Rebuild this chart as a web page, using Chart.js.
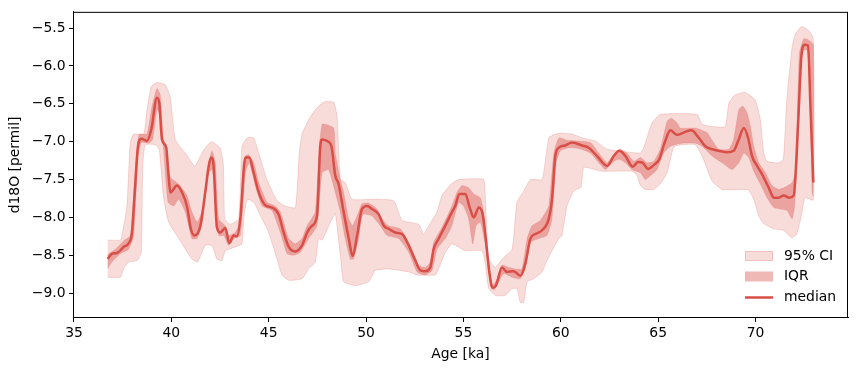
<!DOCTYPE html>
<html>
<head>
<meta charset="utf-8">
<script src="https://cdn.jsdelivr.net/npm/chart.js@4.4.0/dist/chart.umd.min.js"></script>
<style>
  html, body { margin: 0; padding: 0; background: #fff; }
  canvas { display: block; }
</style>
</head>
<body>
<canvas id="chart" width="858" height="371"></canvas>
<script>
// age [ka], d18O [permil] pairs
const median = [
  [36.73,-8.55],[36.95,-8.48],[37.21,-8.47],[37.55,-8.39],[37.81,-8.34],[37.98,-8.2],[38.12,-7.67],
  [38.29,-7.06],[38.46,-6.96],[38.75,-6.99],[38.97,-6.84],[39.26,-6.42],[39.38,-6.49],[39.52,-6.97],
  [39.74,-7.08],[39.84,-7.39],[39.95,-7.67],[40.29,-7.58],[40.55,-7.67],[40.8,-7.85],[41.0,-8.15],
  [41.2,-8.24],[41.49,-8.11],[41.74,-7.67],[41.92,-7.32],[42.05,-7.21],[42.17,-7.32],[42.34,-8.13],
  [42.51,-8.2],[42.77,-8.14],[42.98,-8.34],[43.2,-8.24],[43.37,-8.25],[43.54,-8.02],[43.8,-7.21],
  [44.0,-7.21],[44.23,-7.41],[44.49,-7.67],[44.83,-7.84],[45.17,-7.87],[45.51,-7.96],[45.77,-8.2],
  [46.03,-8.39],[46.37,-8.45],[46.71,-8.37],[46.97,-8.2],[47.22,-8.11],[47.48,-7.98],[47.65,-7.06],
  [47.74,-6.97],[47.99,-6.99],[48.22,-7.06],[48.42,-7.45],[48.59,-7.56],[48.85,-7.93],[49.11,-8.28],
  [49.31,-8.51],[49.54,-8.24],[49.79,-7.89],[50.05,-7.85],[50.31,-7.89],[50.65,-7.96],[50.91,-8.11],
  [51.16,-8.15],[51.5,-8.2],[51.85,-8.22],[52.19,-8.37],[52.53,-8.57],[52.79,-8.7],[53.04,-8.71],
  [53.3,-8.66],[53.47,-8.42],[53.73,-8.28],[54.07,-8.11],[54.41,-7.93],[54.58,-7.85],[54.79,-7.69],
  [55.1,-7.69],[55.3,-7.85],[55.53,-8.0],[55.79,-7.87],[55.99,-7.96],[56.13,-8.24],[56.33,-8.72],
  [56.5,-8.93],[56.67,-8.9],[56.98,-8.66],[57.24,-8.72],[57.58,-8.71],[57.92,-8.77],[58.18,-8.61],
  [58.44,-8.28],[58.69,-8.22],[59.04,-8.17],[59.38,-8.02],[59.55,-7.76],[59.72,-7.19],[59.9,-7.08],
  [60.23,-7.05],[60.58,-7.01],[61.09,-7.05],[61.43,-7.08],[61.86,-7.19],[62.38,-7.32],[62.72,-7.19],
  [63.01,-7.12],[63.32,-7.19],[63.69,-7.33],[63.97,-7.27],[64.21,-7.28],[64.48,-7.36],[64.77,-7.31],
  [65.06,-7.23],[65.34,-7.01],[65.63,-6.85],[65.97,-6.91],[66.31,-6.88],[66.7,-6.85],[67.09,-6.95],
  [67.42,-7.06],[67.77,-7.1],[68.11,-7.12],[68.54,-7.14],[68.88,-7.12],[69.14,-6.97],[69.4,-6.82],
  [69.62,-6.95],[69.82,-7.19],[70.08,-7.32],[70.34,-7.43],[70.68,-7.61],[70.94,-7.74],[71.19,-7.74],
  [71.45,-7.71],[71.74,-7.74],[71.96,-7.71],[72.19,-6.75],[72.36,-5.86],[72.53,-5.72],[72.7,-5.73],
  [72.82,-6.53],[72.97,-7.54]
];

const iqrUpper = [
  [36.73,-8.49],[37.12,-8.42],[37.55,-8.31],[37.89,-8.24],[38.07,-7.67],[38.24,-7.06],[38.36,-6.9],
  [38.75,-6.9],[39.01,-6.53],[39.26,-6.3],[39.43,-6.38],[39.6,-6.97],[39.95,-7.47],[40.38,-7.56],
  [40.8,-7.71],[41.06,-7.93],[41.32,-8.06],[41.57,-7.93],[41.92,-7.28],[42.09,-7.12],[42.26,-7.28],
  [42.43,-8.02],[42.77,-8.11],[42.94,-8.24],[43.28,-8.2],[43.59,-8.02],[43.8,-7.19],[43.97,-7.17],
  [44.23,-7.28],[44.49,-7.54],[44.91,-7.8],[45.34,-7.85],[45.6,-7.93],[46.03,-8.28],[46.37,-8.35],
  [46.71,-8.28],[46.97,-8.11],[47.39,-7.93],[47.6,-7.06],[47.74,-6.77],[47.91,-6.77],[48.34,-6.82],
  [48.42,-7.15],[48.68,-7.5],[48.85,-7.67],[49.11,-8.02],[49.31,-8.11],[49.62,-7.93],[49.79,-7.82],
  [50.13,-7.81],[50.56,-7.89],[50.82,-8.02],[51.16,-8.11],[51.76,-8.15],[52.27,-8.37],[52.7,-8.63],
  [53.04,-8.66],[53.3,-8.59],[53.47,-8.33],[53.9,-8.13],[54.41,-7.85],[54.67,-7.67],[54.93,-7.58],
  [55.27,-7.61],[55.53,-7.69],[55.87,-7.74],[56.04,-7.93],[56.3,-8.68],[56.5,-8.9],[56.73,-8.81],
  [56.98,-8.63],[57.33,-8.66],[57.67,-8.68],[58.01,-8.68],[58.27,-8.28],[58.52,-8.11],[58.95,-8.04],
  [59.38,-7.85],[59.64,-7.15],[59.9,-6.95],[60.32,-6.98],[60.92,-6.99],[61.52,-7.01],[61.95,-7.15],
  [62.38,-7.28],[62.8,-7.14],[63.06,-7.1],[63.4,-7.15],[63.75,-7.26],[64.09,-7.21],[64.43,-7.28],
  [64.77,-7.26],[65.11,-7.1],[65.46,-6.73],[65.68,-6.69],[65.97,-6.75],[66.14,-6.82],[66.91,-6.82],
  [67.51,-6.88],[67.77,-6.98],[68.11,-7.1],[68.63,-7.1],[68.88,-6.97],[69.14,-6.58],[69.34,-6.53],
  [69.57,-6.62],[69.74,-6.8],[69.91,-7.06],[70.17,-7.28],[70.51,-7.41],[70.85,-7.58],[71.19,-7.63],
  [71.53,-7.6],[71.88,-7.54],[72.05,-7.41],[72.25,-5.83],[72.48,-5.64],[72.74,-5.66],[72.97,-5.72]
];

const iqrLower = [
  [36.73,-8.68],[36.95,-8.59],[37.38,-8.48],[37.81,-8.42],[38.07,-8.24],[38.29,-7.19],[38.46,-7.01],
  [38.83,-7.02],[39.04,-6.97],[39.26,-6.58],[39.38,-6.62],[39.6,-7.1],[39.83,-7.8],[40.12,-7.85],
  [40.38,-7.76],[40.72,-7.93],[41.06,-8.28],[41.32,-8.28],[41.57,-8.11],[41.92,-7.41],[42.09,-7.37],
  [42.29,-7.67],[42.43,-8.24],[42.69,-8.24],[42.94,-8.37],[43.2,-8.28],[43.54,-8.24],[43.8,-7.41],
  [44.0,-7.28],[44.31,-7.58],[44.66,-7.85],[45.17,-7.91],[45.6,-8.2],[45.94,-8.48],[46.28,-8.5],
  [46.63,-8.46],[47.05,-8.28],[47.48,-8.11],[47.74,-7.41],[48.08,-7.37],[48.42,-7.67],[48.68,-7.93],
  [48.93,-8.28],[49.19,-8.55],[49.36,-8.55],[49.62,-8.28],[49.83,-7.96],[50.31,-7.98],[50.73,-8.11],
  [51.08,-8.24],[51.68,-8.28],[52.19,-8.46],[52.62,-8.72],[53.04,-8.76],[53.39,-8.7],[53.64,-8.42],
  [54.07,-8.28],[54.41,-8.11],[54.76,-7.8],[55.01,-7.85],[55.27,-8.02],[55.48,-8.35],[55.65,-8.11],
  [55.87,-8.06],[56.13,-8.37],[56.39,-8.9],[56.56,-8.96],[56.81,-8.85],[57.07,-8.74],[57.5,-8.79],
  [57.92,-8.81],[58.18,-8.68],[58.44,-8.33],[58.87,-8.28],[59.29,-8.24],[59.55,-8.02],[59.76,-7.28],
  [59.98,-7.12],[60.41,-7.08],[60.92,-7.09],[61.52,-7.15],[61.95,-7.28],[62.29,-7.37],[62.63,-7.28],
  [62.98,-7.23],[63.32,-7.28],[63.66,-7.37],[64.09,-7.41],[64.34,-7.5],[64.6,-7.45],[64.94,-7.37],
  [65.29,-7.15],[65.63,-7.06],[66.23,-7.02],[66.91,-7.02],[67.26,-7.06],[67.77,-7.19],[68.28,-7.28],
  [68.8,-7.37],[69.14,-7.28],[69.4,-7.15],[69.65,-7.21],[69.91,-7.39],[70.25,-7.56],[70.59,-7.74],
  [70.94,-7.87],[71.27,-7.89],[71.62,-7.91],[71.88,-8.02],[72.01,-7.85],[72.19,-7.06],[72.3,-5.92],
  [72.48,-5.79],[72.65,-5.79],[72.77,-6.1],[72.91,-7.67],[72.97,-7.72]
];

const ciUpper = [
  [36.73,-8.3],[37.38,-8.3],[37.47,-8.23],[37.72,-7.85],[37.89,-7.01],[38.07,-6.9],[38.58,-6.9],
  [38.75,-6.58],[38.97,-6.27],[39.26,-6.22],[39.69,-6.25],[39.95,-6.42],[40.2,-6.97],[40.72,-7.15],
  [41.06,-7.28],[41.21,-7.33],[41.64,-7.12],[42.05,-7.0],[42.5,-7.08],[42.67,-7.3],[42.74,-8.02],
  [43.03,-8.09],[43.46,-8.02],[43.63,-7.06],[43.89,-6.95],[44.23,-6.95],[44.49,-7.15],[44.91,-7.5],
  [45.43,-7.78],[45.85,-7.85],[46.37,-7.87],[46.57,-7.15],[46.71,-6.9],[47.05,-6.71],[47.39,-6.58],
  [47.74,-6.49],[47.91,-6.47],[48.34,-6.48],[48.51,-6.66],[48.68,-7.5],[48.93,-7.54],[49.28,-7.76],
  [50.31,-7.76],[51.42,-7.78],[51.85,-8.04],[52.7,-8.09],[52.96,-8.22],[53.22,-8.11],[53.64,-7.93],
  [53.9,-7.71],[54.41,-7.55],[54.76,-7.5],[55.44,-7.49],[56.04,-7.5],[56.13,-7.76],[56.3,-8.55],
  [56.64,-8.66],[56.98,-8.55],[57.5,-8.42],[57.75,-7.8],[58.1,-7.65],[58.44,-7.5],[59.04,-7.5],
  [59.38,-6.95],[59.72,-6.9],[59.98,-6.89],[60.58,-6.9],[61.09,-6.95],[61.77,-6.99],[62.38,-7.1],
  [64.09,-7.15],[64.26,-7.08],[64.69,-6.75],[65.11,-6.64],[67.0,-6.64],[67.26,-6.77],[67.77,-6.8],
  [68.45,-6.8],[68.63,-6.49],[68.96,-6.38],[69.48,-6.35],[69.99,-6.45],[70.25,-6.71],[70.42,-7.15],
  [70.59,-7.26],[71.17,-7.28],[71.43,-7.23],[71.6,-6.47],[71.86,-5.79],[72.03,-5.59],[72.37,-5.48],
  [72.71,-5.53],[72.97,-5.64]
];

const ciLower = [
  [36.73,-8.79],[37.38,-8.79],[37.55,-8.68],[37.81,-8.59],[38.24,-8.57],[38.46,-8.46],[38.53,-7.32],
  [38.66,-7.04],[39.18,-7.04],[39.38,-7.1],[39.6,-7.74],[39.86,-8.06],[40.29,-8.24],[40.72,-8.42],
  [41.06,-8.55],[41.35,-8.59],[41.74,-8.37],[42.09,-8.37],[42.34,-8.55],[42.6,-8.57],[42.77,-8.44],
  [43.28,-8.39],[43.63,-8.35],[43.72,-8.02],[43.89,-7.76],[44.23,-7.8],[44.49,-7.93],[45.0,-8.2],
  [45.43,-8.55],[45.68,-8.76],[46.03,-8.83],[46.71,-8.81],[47.05,-8.68],[47.39,-8.59],[47.56,-8.28],
  [47.74,-8.3],[48.25,-8.02],[48.42,-7.95],[48.68,-8.5],[48.85,-8.85],[49.45,-8.9],[50.13,-8.85],
  [50.48,-8.7],[51.16,-8.68],[52.19,-8.72],[52.62,-8.76],[53.56,-8.76],[53.73,-8.68],[54.07,-8.46],
  [54.41,-8.35],[54.76,-8.39],[55.1,-8.44],[55.96,-8.44],[56.13,-8.63],[56.3,-8.94],[56.64,-9.03],
  [57.15,-9.03],[57.5,-8.94],[57.75,-8.94],[57.92,-9.12],[58.1,-9.12],[58.27,-8.85],[58.61,-8.81],
  [59.04,-8.72],[59.29,-8.57],[59.55,-8.44],[59.9,-8.28],[60.06,-8.24],[60.32,-7.85],[60.66,-7.65],
  [61.05,-7.6],[61.18,-7.34],[62.12,-7.39],[63.66,-7.39],[63.92,-7.45],[64.09,-7.58],[64.34,-7.63],
  [64.77,-7.63],[65.11,-7.56],[65.46,-7.41],[65.8,-7.07],[66.23,-7.04],[66.91,-7.04],[67.26,-7.19],
  [67.77,-7.52],[68.28,-7.63],[69.31,-7.63],[69.65,-7.64],[69.91,-7.76],[70.17,-7.98],[70.42,-8.08],
  [70.92,-8.15],[71.43,-8.17],[71.86,-8.27],[72.12,-8.22],[72.37,-7.96],[72.54,-7.74],[72.97,-7.77]
];

const xTicks = [35, 40, 45, 50, 55, 60, 65, 70];
const yTicks = [-9.0, -8.5, -8.0, -7.5, -7.0, -6.5, -6.0, -5.5];

const red = '217, 78, 70';
const lineColor = 'rgb(' + red + ')';
const ciColor = 'rgba(' + red + ', 0.2)';
const iqrColor = 'rgba(' + red + ', 0.4)';

function toXY(pairs) {
  return pairs.map(p => ({ x: p[0], y: p[1] }));
}
// closed outline: upper edge left->right, lower edge right->left
function band(upper, lower) {
  return toXY(upper.concat(lower.slice().reverse()));
}

Chart.defaults.font.family = "'DejaVu Sans', sans-serif";
Chart.defaults.font.size = 13.9;
Chart.defaults.color = '#000';

// top/right spines
const frame = {
  id: 'frame',
  afterDatasetsDraw(chart) {
    const a = chart.chartArea, c = chart.ctx;
    c.save();
    c.strokeStyle = '#000';
    c.lineWidth = 1;
    c.strokeRect(a.left + 0.5, a.top + 0.5, a.right - a.left - 1, a.bottom - a.top - 1);
    c.restore();
  }
};

const legendBox = {
  id: 'legendBox',
  afterDraw(chart) {
    const a = chart.chartArea, c = chart.ctx;
    const px = a.right - 103, tx = a.right - 64;
    c.save();
    c.font = '13.9px "DejaVu Sans"';
    c.textBaseline = 'middle';
    // 95% CI
    let y = a.bottom - 62;
    c.fillStyle = ciColor;
    c.fillRect(px, y - 5, 28, 10);
    c.strokeStyle = 'rgba(' + red + ', 0.2)';
    c.strokeRect(px + 0.5, y - 4.5, 27, 9);
    c.fillStyle = '#000';
    c.fillText('95% CI', tx, y);
    // IQR
    y = a.bottom - 41.5;
    c.fillStyle = iqrColor;
    c.fillRect(px, y - 5, 28, 10);
    c.fillStyle = '#000';
    c.fillText('IQR', tx, y);
    // median
    y = a.bottom - 20.5;
    c.strokeStyle = lineColor;
    c.lineWidth = 2.5;
    c.beginPath();
    c.moveTo(px, y);
    c.lineTo(px + 28, y);
    c.stroke();
    c.fillText('median', tx, y);
    c.restore();
  }
};

const ctx = document.getElementById('chart').getContext('2d');
const chart = new Chart(ctx, {
  type: 'line',
  data: {
    datasets: [
      {
        label: 'median',
        data: toXY(median),
        borderColor: lineColor,
        borderWidth: 2.5,
        borderJoinStyle: 'round',
        pointRadius: 0,
        fill: false,
        tension: 0.3,
        cubicInterpolationMode: 'monotone',
        order: 0
      },
      {
        label: 'IQR',
        data: band(iqrUpper, iqrLower),
        backgroundColor: iqrColor,
        borderColor: 'rgba(' + red + ', 0.2)',
        borderWidth: 0.8,
        pointRadius: 0,
        fill: 'shape',
        tension: 0.15,
        order: 1
      },
      {
        label: '95% CI',
        data: band(ciUpper, ciLower),
        backgroundColor: ciColor,
        borderColor: 'rgba(' + red + ', 0.2)',
        borderWidth: 1,
        pointRadius: 0,
        fill: 'shape',
        tension: 0.15,
        order: 2
      }
    ]
  },
  options: {
    responsive: false,
    animation: false,
    devicePixelRatio: 1,
    layout: { padding: { top: 10, right: 10, left: 0, bottom: 0 } },
    plugins: { legend: { display: false }, tooltip: { enabled: false } },
    scales: {
      x: {
        type: 'linear',
        min: 34.95,
        max: 74.75,
        afterBuildTicks: s => { s.ticks = xTicks.map(v => ({ value: v })); },
        afterFit: s => { s.height = 53; },
        ticks: { padding: 3, autoSkip: false, maxRotation: 0, callback: v => String(v) },
        grid: { drawOnChartArea: false, drawTicks: true, tickLength: 4, tickColor: '#000', tickWidth: 1 },
        border: { display: true, color: '#000', width: 1 },
        title: { display: true, text: 'Age [ka]', padding: { top: 0, bottom: 8.7 } }
      },
      y: {
        type: 'linear',
        min: -9.328,
        max: -5.286,
        afterBuildTicks: s => { s.ticks = yTicks.map(v => ({ value: v })); },
        afterFit: s => { s.width = 73; },
        ticks: {
          padding: 3.5,
          autoSkip: false,
          callback: v => (v < 0 ? '\u2212' : '') + Math.abs(v).toFixed(1)
        },
        grid: { drawOnChartArea: false, drawTicks: true, tickLength: 4, tickColor: '#000', tickWidth: 1 },
        border: { display: true, color: '#000', width: 1 },
        title: { display: true, text: 'd18O [permil]', padding: { top: 7.4, bottom: 0 } }
      }
    }
  },
  plugins: [frame, legendBox]
});
</script>
</body>
</html>
